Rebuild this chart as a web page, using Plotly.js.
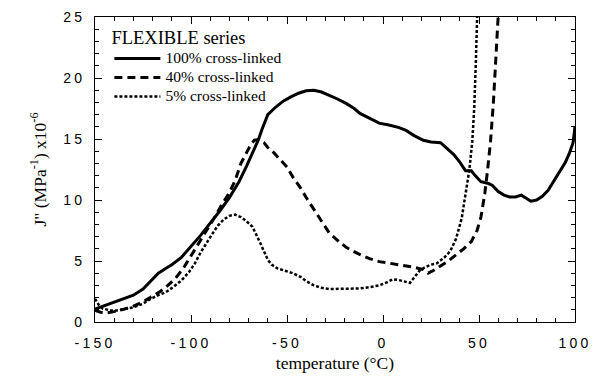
<!DOCTYPE html>
<html>
<head>
<meta charset="utf-8">
<script src="https://cdn.plot.ly/plotly-3.0.1.min.js"></script>
<style>
  html, body { margin: 0; padding: 0; background: #fff; }
  #chart { width: 593px; height: 379px; }
  .xtick text, .ytick text { letter-spacing: 3.2px; }
  .legendtext { font-size: 15.5px !important; }
</style>
</head>
<body>
<div id="chart"></div>
<script>
const seriesNames = ['100% cross-linked', '40% cross-linked', '5% cross-linked'];
const legendTitle = 'FLEXIBLE series';

const temp100 = [-150,-145,-140,-135,-130,-125,-120,-117,-113,-110,-105,-100,-95,-90,-85,-80,-75,-71,-68,-65,-63,-60,-56,-52,-48,-44,-40,-36,-32,-28,-24,-19,-15,-12,-7,-2,3,8,12,16,21,25,30,33,37,40,43,46,48,51,55,57,60,63,66,69,72,74,77,80,83,86,89,92,95,97,99,100];
const j100    = [1.05,1.35,1.6,1.9,2.2,2.7,3.5,4.0,4.4,4.7,5.3,6.2,7.1,8.1,9.1,10.2,11.5,12.8,13.8,14.9,15.8,17.0,17.6,18.1,18.45,18.75,18.95,19.0,18.85,18.6,18.3,17.9,17.5,17.1,16.7,16.3,16.15,15.95,15.7,15.3,14.9,14.75,14.7,14.3,13.7,13.1,12.4,12.4,12.0,11.5,11.35,11.2,10.7,10.4,10.25,10.25,10.4,10.2,9.9,10.0,10.3,10.8,11.6,12.3,13.1,13.8,14.7,16.0];

const temp40 = [-150,-147,-144,-140,-135,-130,-125,-120,-116,-112,-108,-104,-100,-96,-92,-88,-84,-80,-77,-74,-71,-69,-67,-65,-62,-60,-57,-54,-50,-47,-43,-40,-36,-32,-28,-23,-19,-13,-7,-2,4,10,16,21,23.5,26,30,34,38,42,46,49,51,53,54.5,56,57.5,59,60,60.5];
const j40    = [0.95,0.8,0.75,0.85,1.05,1.3,1.65,2.1,2.5,3.0,3.6,4.4,5.4,6.4,7.4,8.5,9.6,10.6,11.6,13.0,13.9,14.5,14.9,14.95,14.7,14.3,13.9,13.4,12.7,11.9,11.0,10.2,9.2,8.3,7.3,6.6,6.1,5.6,5.2,4.95,4.8,4.65,4.5,4.3,4.0,4.2,4.6,5.0,5.5,6.0,6.6,7.5,8.6,10.5,12.5,14.8,18,22,25,26.5];

const temp5 = [-150,-148,-146,-142,-138,-134,-130,-125,-121,-117,-113,-109,-105,-101,-98,-95,-92,-89,-86,-83,-80,-77,-74,-71,-68,-66,-64,-62,-60,-58,-55,-51,-47,-43,-40,-36,-32,-28,-23,-17,-12,-7,-2,2,5,8,11,14,16,19,22,25,28,32,35,38,41,43,45,46.5,47.5,48.3,49,49.3];
const j5    = [1.9,1.4,1.1,0.95,0.95,1.05,1.2,1.5,1.9,2.2,2.45,2.9,3.4,4.1,4.8,5.7,6.5,7.2,7.9,8.4,8.7,8.8,8.6,8.25,7.8,7.2,6.5,5.8,5.1,4.7,4.4,4.2,4.0,3.7,3.35,3.0,2.8,2.7,2.7,2.7,2.75,2.85,3.0,3.25,3.5,3.45,3.3,3.2,3.6,4.2,4.5,4.7,4.8,5.3,5.8,6.8,8.5,10.5,12.5,14.8,17.5,21,25,26.5];

const xRange = [-150, 100];
const yRange = [0, 25];
const xTickVals = [-150,-100,-50,0,50,100];
const yTickVals = [0,5,10,15,20,25];

const traces = [
  {x: temp100, y: j100, name: seriesNames[0], mode: 'lines', line: {color: '#000', width: 3, dash: 'solid'}},
  {x: temp40, y: j40, name: seriesNames[1], mode: 'lines', line: {color: '#000', width: 3, dash: '8px,5px'}},
  {x: temp5, y: j5, name: seriesNames[2], mode: 'lines', line: {color: '#000', width: 2.5, dash: '3px,2px'}}
];

const serif = 'Liberation Serif, Times New Roman, serif';
const axisCommon = {
  showgrid: false, zeroline: false, showline: true, linecolor: '#000', linewidth: 1,
  mirror: 'ticks', ticks: 'inside', ticklen: 7, tickwidth: 1, tickcolor: '#000',
  tickfont: {family: 'Liberation Sans, Arial, sans-serif', size: 14, color: '#000'}
};

const layout = {
  width: 593, height: 379,
  margin: {l: 95, r: 18, t: 17, b: 57},
  paper_bgcolor: '#fff', plot_bgcolor: '#fff',
  showlegend: true,
  legend: {
    x: 0.03, y: 0.99, xanchor: 'left', yanchor: 'top',
    bgcolor: 'rgba(0,0,0,0)', borderwidth: 0,
    font: {family: serif, size: 11, color: '#000'},
    title: {text: legendTitle, font: {family: serif, size: 18.5, color: '#000'}},
    itemwidth: 46, tracegroupgap: 0
  },
  xaxis: Object.assign({}, axisCommon, {
    range: xRange, tickvals: xTickVals, ticktext: xTickVals.map(String),
    minor: {dtick: 10, ticks: 'inside', ticklen: 4, tickcolor: '#000', tickwidth: 1},
    ticklabelstandoff: 8,
    title: {text: 'temperature (°C)', standoff: 6, font: {family: serif, size: 17.5, color: '#000'}}
  }),
  yaxis: Object.assign({}, axisCommon, {
    range: yRange, tickvals: yTickVals, ticktext: yTickVals.map(String),
    minor: {dtick: 1, ticks: 'inside', ticklen: 4, tickcolor: '#000', tickwidth: 1},
    ticklabelstandoff: 6,
    title: {text: 'J" (MPa<sup>-1</sup>) x10<sup>-6</sup>', standoff: 12, font: {family: serif, size: 17.5, color: '#000'}}
  })
};

Plotly.newPlot('chart', traces, layout, {staticPlot: true, displayModeBar: false});
</script>
</body>
</html>
